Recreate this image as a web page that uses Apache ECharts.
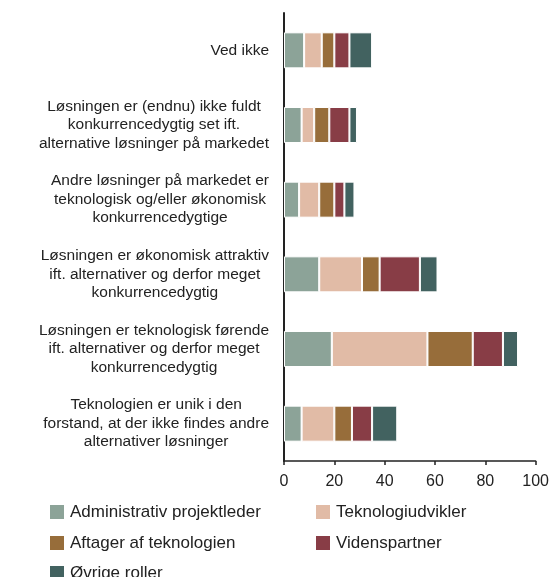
<!DOCTYPE html>
<html>
<head>
<meta charset="utf-8">
<script src="https://cdn.jsdelivr.net/npm/echarts@6/dist/echarts.min.js"></script>
<style>
  html, body { margin: 0; padding: 0; background: #fff; }
  #chart { width: 552px; height: 577px; }
</style>
</head>
<body>
<div id="chart"></div>
<script>
// Survey answers, top to bottom
const categories = [
  'Ved ikke',
  'Løsningen er (endnu) ikke fuldt\nkonkurrencedygtig set ift.\nalternative løsninger på markedet',
  'Andre løsninger på markedet er\nteknologisk og/eller økonomisk\nkonkurrencedygtige',
  'Løsningen er økonomisk attraktiv\nift. alternativer og derfor meget\nkonkurrencedygtig',
  'Løsningen er teknologisk førende\nift. alternativer og derfor meget\nkonkurrencedygtig',
  'Teknologien er unik i den\nforstand, at der ikke findes andre\nalternativer løsninger'
];

const seriesNames = [
  'Administrativ projektleder',
  'Teknologiudvikler',
  'Aftager af teknologien',
  'Videnspartner',
  'Øvrige roller'
];

const administrativ = [8, 7, 6, 14, 19, 7];
const teknologiudvikler = [7, 5, 8, 17, 38, 13];
const aftager = [5, 6, 6, 7, 18, 7];
const videnspartner = [6, 8, 4, 16, 12, 8];
const oevrige = [9, 3, 4, 7, 6, 10];

const xTicks = [0, 20, 40, 60, 80, 100];

const values = [administrativ, teknologiudvikler, aftager, videnspartner, oevrige];
const colors = ['#8CA398', '#E1BBA6', '#976D3A', '#883D46', '#426260'];

const chart = echarts.init(document.getElementById('chart'), null, { renderer: 'canvas' });

const textFont = "'Liberation Sans', Arial, sans-serif";

// Legend entries laid out in two columns: [left, top] per entry
const legendSpots = [[48, 503], [314, 503], [48, 534], [314, 534], [48, 564]];

chart.setOption({
  animation: false,
  backgroundColor: '#ffffff',
  grid: { left: 284, right: 14, top: 13, bottom: 116, containLabel: false },
  legend: seriesNames.map(function (name, i) {
    return {
      data: [name],
      left: legendSpots[i][0],
      top: legendSpots[i][1],
      padding: 0,
      itemWidth: 16,
      itemHeight: 16,
      itemGap: 0,
      icon: 'rect',
      textStyle: { fontFamily: textFont, fontSize: 17, color: '#222' }
    };
  }),
  xAxis: {
    type: 'value',
    min: xTicks[0],
    max: xTicks[xTicks.length - 1],
    interval: xTicks[1] - xTicks[0],
    splitLine: { show: false },
    axisLine: { show: true, lineStyle: { color: '#222', width: 1.5 } },
    axisTick: { show: true, length: 4, lineStyle: { color: '#222', width: 1.5 } },
    axisLabel: { fontFamily: textFont, fontSize: 16, color: '#222', margin: 13 }
  },
  yAxis: {
    type: 'category',
    data: categories,
    inverse: true,
    axisLine: { show: true, lineStyle: { color: '#222', width: 2 } },
    axisTick: { show: false },
    axisLabel: {
      margin: 15,
      formatter: function (v) {
        return v.split('\n').map(function (l) { return '{c|' + l + '}'; }).join('\n');
      },
      rich: {
        c: { align: 'center', fontFamily: textFont, fontSize: 15.5, color: '#222', lineHeight: 18.5 }
      }
    }
  },
  series: seriesNames.map(function (name, i) {
    return {
      name: name,
      type: 'bar',
      stack: 'total',
      barWidth: 36,
      data: values[i],
      itemStyle: { color: colors[i], borderColor: '#ffffff', borderWidth: 1 }
    };
  })
});
</script>
</body>
</html>
